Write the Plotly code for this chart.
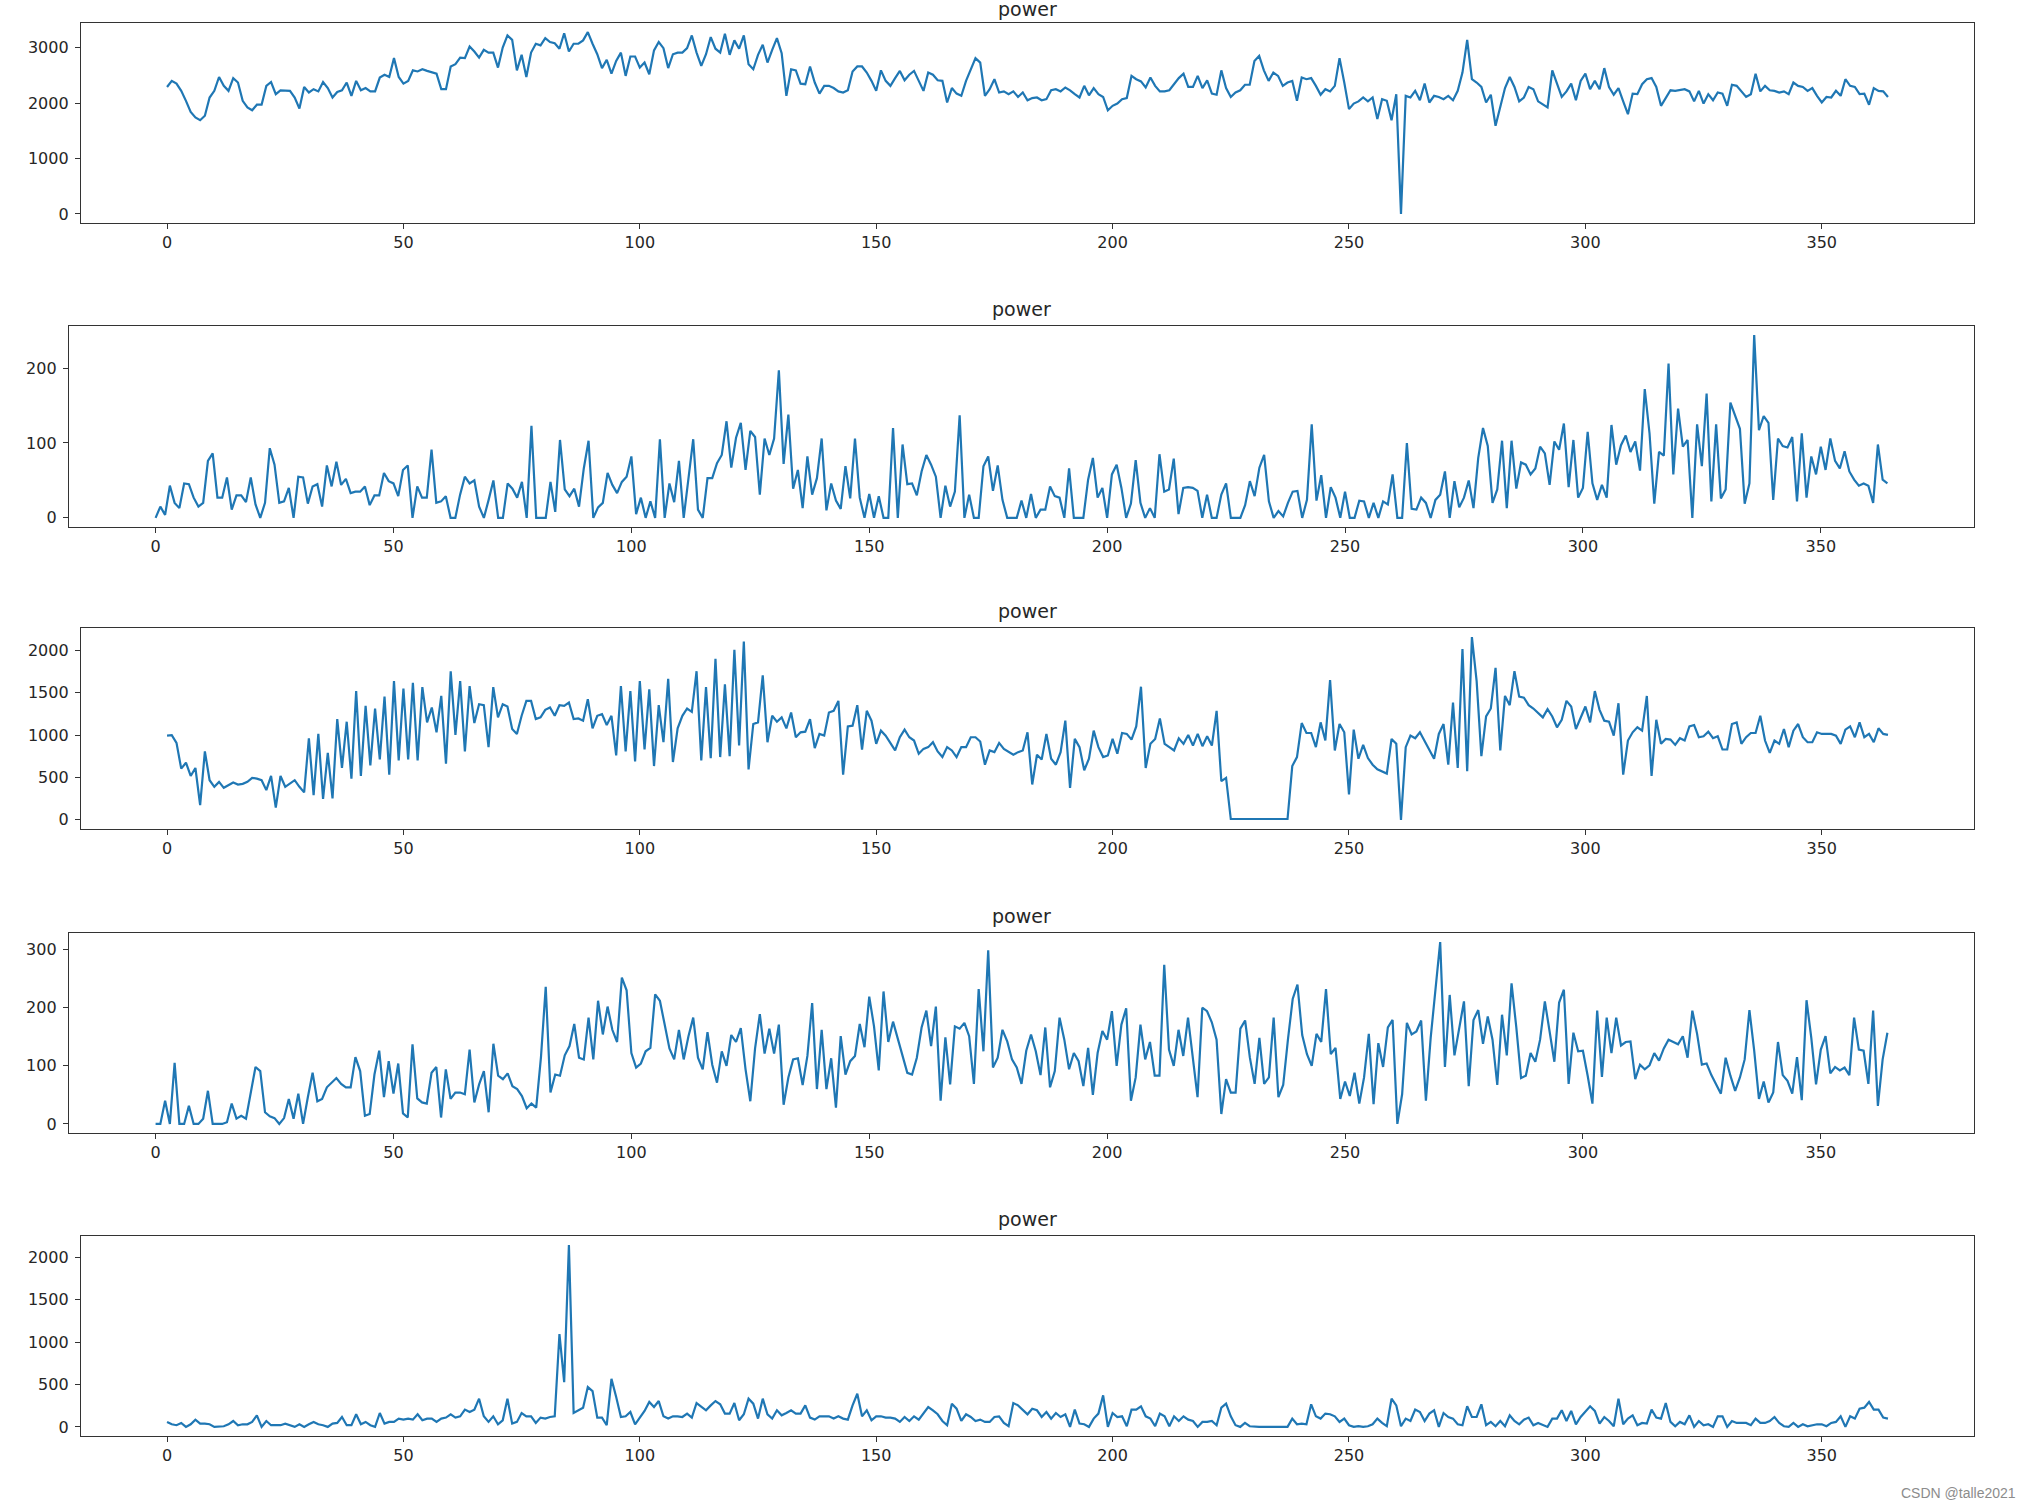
import plotly.graph_objects as go

days = list(range(365))

power_1 = [
    2290, 2400, 2350, 2220, 2040, 1840, 1740, 1690, 1770, 2100,
    2220, 2470, 2310, 2220, 2450, 2370, 2040, 1920, 1870, 1970,
    1970, 2310, 2380, 2160, 2230, 2230, 2220, 2100, 1900, 2290,
    2190, 2250, 2210, 2380, 2270, 2100, 2200, 2230, 2370, 2130,
    2400, 2230, 2270, 2210, 2210, 2460, 2510, 2470, 2810, 2470,
    2350, 2400, 2590, 2570, 2610, 2580, 2550, 2530, 2250, 2250,
    2660, 2700, 2820, 2810, 3020, 2930, 2820, 2960, 2910, 2910,
    2640, 3000, 3220, 3140, 2590, 2870, 2470, 2910, 3070, 3040,
    3170, 3100, 3080, 2980, 3260, 2930, 3070, 3070, 3130, 3280,
    3070, 2880, 2630, 2780, 2530, 2760, 2910, 2490, 2840, 2840,
    2640, 2730, 2520, 2950, 3100, 2990, 2630, 2880, 2910, 2910,
    2990, 3220, 2910, 2670, 2880, 3190, 2980, 2910, 3250, 2870,
    3130, 2980, 3220, 2700, 2610, 2870, 3050, 2730, 2960, 3170,
    2900, 2130, 2610, 2590, 2350, 2340, 2660, 2370, 2170, 2310,
    2310, 2270, 2210, 2190, 2230, 2570, 2660, 2660, 2550, 2400,
    2220, 2590, 2400, 2310, 2450, 2580, 2410, 2510, 2580, 2400,
    2220, 2550, 2510, 2410, 2400, 2010, 2270, 2170, 2130, 2400,
    2610, 2810, 2730, 2130, 2250, 2430, 2190, 2210, 2160, 2210,
    2110, 2190, 2050, 2090, 2100, 2050, 2070, 2230, 2250, 2210,
    2280, 2230, 2160, 2100, 2310, 2140, 2270, 2160, 2110, 1870,
    1950, 1990, 2070, 2090, 2490, 2430, 2390, 2280, 2460, 2310,
    2210, 2210, 2230, 2340, 2450, 2530, 2290, 2290, 2490, 2270,
    2410, 2170, 2150, 2590, 2270, 2110, 2190, 2230, 2330, 2330,
    2760, 2850, 2590, 2400, 2550, 2490, 2310, 2370, 2400, 2040,
    2460, 2430, 2450, 2310, 2150, 2250, 2210, 2310, 2810, 2370,
    1890, 1990, 2030, 2100, 2030, 2100, 1710, 2070, 2040, 1690,
    2160, 0, 2130, 2100, 2220, 2050, 2350, 2010, 2130, 2110,
    2070, 2130, 2050, 2220, 2550, 3140, 2430, 2370, 2290, 2010,
    2150, 1590, 1920, 2270, 2470, 2290, 2030, 2100, 2290, 2250,
    2030, 1980, 1920, 2590, 2350, 2110, 2210, 2350, 2050, 2400,
    2530, 2250, 2400, 2250, 2630, 2290, 2150, 2270, 2030, 1800,
    2170, 2160, 2340, 2430, 2450, 2290, 1950, 2100, 2230, 2220,
    2230, 2250, 2210, 2030, 2220, 1990, 2160, 2050, 2190, 2170,
    1950, 2330, 2310, 2210, 2110, 2160, 2530, 2210, 2310, 2230,
    2220, 2190, 2210, 2160, 2370, 2310, 2290, 2220, 2270, 2130,
    2010, 2110, 2100, 2220, 2130, 2430, 2310, 2290, 2160, 2170,
    1970, 2270, 2220, 2210, 2110,
]

power_2 = [
    0, 15, 4, 43, 20, 13, 46, 45, 27, 15,
    20, 76, 86, 27, 27, 54, 11, 30, 30, 21,
    54, 18, 0, 20, 93, 71, 20, 22, 40, 0,
    55, 54, 19, 42, 45, 15, 70, 42, 75, 44,
    52, 33, 35, 35, 42, 17, 30, 30, 60, 49,
    46, 29, 64, 70, 0, 42, 27, 27, 91, 20,
    22, 29, 0, 0, 31, 55, 46, 50, 15, 0,
    24, 50, 0, 0, 46, 39, 27, 48, 0, 123,
    0, 0, 0, 48, 8, 104, 38, 29, 39, 15,
    66, 103, 0, 14, 20, 60, 44, 33, 48, 55,
    82, 5, 27, 0, 22, 0, 105, 0, 46, 21,
    76, 0, 50, 105, 11, 0, 53, 53, 73, 84,
    129, 67, 107, 127, 64, 116, 108, 31, 106, 84,
    106, 197, 72, 138, 39, 64, 13, 82, 31, 53,
    106, 10, 46, 23, 12, 69, 26, 106, 27, 0,
    32, 0, 29, 0, 0, 120, 0, 98, 45, 46,
    30, 62, 84, 71, 55, 0, 43, 15, 35, 137,
    0, 31, 0, 0, 69, 82, 36, 70, 24, 0,
    0, 0, 23, 0, 32, 0, 11, 11, 42, 29,
    27, 0, 66, 0, 0, 0, 51, 80, 27, 40,
    0, 58, 71, 40, 0, 19, 77, 20, 0, 13,
    0, 85, 35, 38, 79, 5, 40, 41, 40, 36,
    0, 31, 0, 0, 31, 46, 0, 0, 0, 17,
    49, 29, 67, 84, 22, 0, 9, 2, 20, 35,
    36, 0, 24, 125, 23, 57, 0, 41, 27, 0,
    35, 0, 0, 23, 22, 0, 20, 0, 22, 18,
    58, 0, 0, 100, 12, 11, 27, 20, 0, 24,
    31, 62, 0, 49, 14, 27, 50, 13, 80, 120,
    96, 20, 38, 103, 13, 103, 39, 74, 71, 58,
    66, 95, 86, 44, 102, 91, 126, 41, 104, 27,
    40, 115, 46, 24, 44, 27, 124, 71, 97, 110,
    88, 102, 63, 172, 113, 19, 88, 83, 206, 58,
    146, 95, 104, 0, 125, 69, 166, 22, 125, 26,
    38, 154, 137, 119, 19, 46, 244, 117, 136, 127,
    24, 106, 96, 94, 108, 22, 113, 27, 82, 58,
    95, 64, 106, 76, 66, 89, 62, 51, 43, 46,
    43, 20, 98, 51, 46,
]

power_3 = [
    994, 1000, 908, 604, 674, 518, 612, 175, 807, 468,
    390, 448, 378, 409, 440, 417, 425, 448, 495, 487,
    468, 351, 518, 144, 518, 390, 429, 468, 390, 324,
    963, 292, 1014, 246, 791, 253, 1189, 612, 1158, 487,
    1520, 518, 1345, 643, 1314, 713, 1454, 534, 1637, 702,
    1548, 713, 1618, 702, 1567, 1150, 1326, 1033, 1462, 663,
    1754, 1002, 1637, 807, 1579, 1142, 1365, 1353, 858, 1567,
    1209, 1365, 1337, 1072, 1014, 1228, 1404, 1404, 1189, 1209,
    1298, 1326, 1228, 1353, 1345, 1384, 1189, 1197, 1170, 1423,
    1080, 1228, 1248, 1119, 1228, 760, 1579, 807, 1520, 690,
    1637, 830, 1540, 635, 1353, 916, 1665, 682, 1080, 1228,
    1314, 1275, 1754, 702, 1567, 729, 1899, 741, 1598, 752,
    2008, 877, 2105, 596, 1131, 1150, 1704, 916, 1228, 1158,
    1209, 1080, 1267, 975, 1033, 1041, 1189, 846, 1014, 994,
    1267, 1287, 1404, 534, 1103, 1111, 1353, 830, 1287, 1170,
    897, 1053, 994, 908, 819, 975, 1064, 975, 936, 780,
    838, 858, 916, 807, 741, 858, 819, 741, 858, 858,
    975, 975, 924, 651, 819, 799, 908, 838, 799, 768,
    799, 819, 1033, 417, 768, 713, 1014, 721, 651, 799,
    1170, 378, 955, 858, 585, 721, 1053, 858, 741, 760,
    955, 780, 1025, 1014, 947, 1103, 1571, 612, 897, 955,
    1197, 897, 858, 819, 963, 897, 1002, 877, 1014, 869,
    986, 877, 1287, 456, 495, 10, 10, 10, 10, 10,
    10, 10, 10, 10, 10, 10, 10, 10, 635, 741,
    1142, 1025, 1025, 858, 1150, 936, 1649, 819, 1131, 1033,
    300, 1064, 721, 885, 729, 651, 596, 573, 546, 955,
    897, 0, 858, 994, 963, 1033, 924, 830, 721, 1014,
    1131, 651, 1384, 612, 2016, 573, 2156, 1637, 752, 1220,
    1314, 1793, 819, 1462, 1353, 1754, 1454, 1442, 1353, 1314,
    1267, 1209, 1306, 1220, 1092, 1181, 1404, 1337, 1072, 1209,
    1337, 1150, 1520, 1298, 1170, 1158, 994, 1376, 534, 936,
    1033, 1092, 1053, 1462, 518, 1181, 897, 955, 947, 885,
    963, 936, 1103, 1119, 975, 986, 1041, 963, 986, 830,
    830, 1131, 1150, 897, 975, 1025, 1025, 1228, 936, 791,
    936, 897, 1072, 858, 1053, 1131, 975, 916, 916, 1033,
    1014, 1014, 1014, 994, 897, 1064, 1103, 975, 1150, 975,
    1014, 916, 1080, 1014, 1002,
]

power_4 = [
    0, 0, 40, 0, 105, 0, 0, 31, 0, 0,
    9, 57, 0, 0, 0, 3, 35, 9, 14, 9,
    51, 98, 91, 20, 13, 10, 0, 10, 43, 9,
    52, 0, 46, 88, 39, 43, 63, 71, 79, 69,
    63, 63, 115, 91, 14, 17, 85, 126, 46, 108,
    52, 104, 18, 11, 137, 44, 37, 35, 88, 98,
    11, 94, 43, 54, 54, 51, 128, 37, 68, 91,
    20, 138, 83, 77, 87, 65, 60, 48, 27, 35,
    28, 115, 236, 54, 85, 83, 118, 134, 172, 114,
    111, 183, 111, 212, 154, 202, 162, 141, 252, 230,
    122, 97, 104, 125, 131, 223, 212, 171, 130, 111,
    162, 111, 151, 183, 114, 94, 158, 102, 71, 125,
    100, 153, 141, 165, 94, 39, 130, 189, 121, 164,
    121, 171, 33, 80, 111, 113, 67, 117, 208, 60,
    162, 60, 113, 28, 151, 85, 108, 117, 172, 132,
    219, 168, 92, 228, 141, 176, 145, 114, 88, 85,
    114, 166, 195, 134, 202, 40, 149, 68, 168, 164,
    174, 151, 69, 232, 125, 299, 97, 114, 162, 142,
    111, 97, 69, 126, 154, 125, 84, 166, 63, 91,
    183, 145, 94, 122, 108, 65, 131, 50, 122, 160,
    145, 194, 100, 171, 199, 40, 80, 171, 111, 141,
    83, 83, 274, 128, 100, 162, 117, 183, 114, 46,
    200, 194, 175, 145, 17, 77, 54, 54, 164, 178,
    114, 69, 148, 69, 80, 183, 46, 67, 145, 215,
    240, 153, 120, 100, 155, 141, 232, 120, 131, 43,
    73, 48, 88, 35, 80, 155, 34, 139, 98, 166,
    179, 0, 51, 174, 154, 159, 178, 40, 148, 234,
    313, 98, 222, 118, 168, 211, 65, 179, 196, 138,
    185, 145, 67, 188, 118, 242, 166, 79, 83, 122,
    107, 145, 211, 158, 107, 209, 231, 69, 157, 125,
    126, 83, 35, 195, 81, 183, 122, 183, 135, 141,
    142, 77, 102, 94, 101, 122, 109, 130, 145, 141,
    137, 151, 114, 195, 155, 102, 104, 84, 68, 52,
    114, 83, 57, 80, 111, 196, 126, 43, 73, 37,
    54, 141, 84, 74, 52, 115, 41, 213, 148, 68,
    128, 151, 87, 98, 92, 97, 84, 183, 128, 126,
    69, 195, 31, 111, 157,
]

power_5 = [
    59, 31, 20, 47, 0, 31, 86, 39, 39, 31,
    0, 8, 8, 31, 70, 20, 31, 31, 59, 137,
    0, 70, 20, 20, 20, 39, 20, 0, 31, 0,
    31, 59, 31, 20, 0, 39, 47, 117, 20, 20,
    149, 31, 59, 20, 0, 164, 39, 59, 59, 98,
    86, 98, 86, 149, 78, 98, 98, 59, 98, 110,
    149, 110, 125, 204, 176, 204, 333, 125, 59, 125,
    31, 78, 333, 39, 59, 164, 125, 125, 47, 110,
    98, 117, 125, 1096, 528, 2145, 164, 196, 227, 470,
    423, 110, 110, 20, 567, 352, 117, 125, 176, 31,
    110, 188, 294, 235, 305, 125, 98, 125, 125, 117,
    157, 110, 282, 235, 196, 254, 305, 266, 157, 157,
    282, 78, 149, 333, 274, 98, 333, 149, 98, 196,
    137, 164, 196, 157, 157, 254, 110, 86, 125, 125,
    125, 98, 125, 98, 86, 254, 391, 125, 196, 78,
    125, 125, 110, 110, 98, 59, 117, 70, 125, 86,
    164, 235, 196, 149, 70, 20, 274, 215, 70, 149,
    117, 70, 86, 59, 59, 117, 125, 47, 8, 282,
    254, 204, 149, 215, 196, 117, 176, 98, 164, 117,
    149, 0, 204, 39, 31, 0, 98, 157, 372, 0,
    164, 117, 125, 8, 204, 204, 243, 125, 98, 8,
    157, 125, 8, 125, 70, 125, 86, 70, 0, 59,
    59, 70, 20, 227, 274, 125, 20, 0, 47, 8,
    0, 0, 0, 0, 0, 0, 0, 0, 98, 31,
    39, 31, 266, 125, 98, 157, 149, 125, 59, 98,
    20, 0, 8, 0, 8, 31, 98, 47, 8, 333,
    254, 8, 98, 70, 204, 176, 70, 157, 196, 0,
    164, 117, 98, 31, 20, 243, 117, 117, 266, 20,
    59, 8, 70, 8, 137, 70, 31, 86, 110, 20,
    47, 20, 0, 98, 98, 196, 70, 188, 31, 117,
    176, 243, 188, 39, 117, 70, 8, 333, 31, 98,
    137, 20, 47, 39, 204, 110, 98, 282, 59, 8,
    59, 31, 137, 0, 70, 20, 31, 0, 125, 125,
    0, 70, 47, 47, 47, 20, 98, 47, 47, 70,
    117, 47, 8, 0, 47, 0, 31, 8, 20, 31,
    31, 8, 47, 59, 125, 0, 125, 98, 215, 227,
    294, 204, 204, 110, 98,
]

series = [power_1, power_2, power_3, power_4, power_5]
titles = ["power", "power", "power", "power", "power"]
x_ticks = [0, 50, 100, 150, 200, 250, 300, 350]
y_ticks = [
    [0, 1000, 2000, 3000],
    [0, 100, 200],
    [0, 500, 1000, 1500, 2000],
    [0, 100, 200, 300],
    [0, 500, 1000, 1500, 2000],
]

W, H = 2034, 1502
# plot boxes in pixels: (left, top, right, bottom)
boxes = [
    (81, 23, 1974, 223),
    (69, 326, 1974, 527),
    (81, 628, 1974, 829),
    (69, 933, 1974, 1133),
    (81, 1236, 1974, 1436),
]

FONT = "DejaVu Sans"
TXT = "#262626"
fig = go.Figure()
layout = dict(
    width=W, height=H,
    margin=dict(l=0, r=0, t=0, b=0),
    paper_bgcolor="white", plot_bgcolor="white",
    showlegend=False,
    font=dict(family=FONT, size=16, color=TXT),
)
annotations = []
n_days = len(days)
x_lo = -0.05 * (n_days - 1)
x_hi = (n_days - 1) * 1.05

for k, (vals, box) in enumerate(zip(series, boxes)):
    n = k + 1
    xs = "x" if n == 1 else f"x{n}"
    ys = "y" if n == 1 else f"y{n}"
    fig.add_trace(go.Scatter(
        x=days[:len(vals)], y=vals, mode="lines",
        line=dict(color="#1f77b4", width=2.2),
        xaxis=xs, yaxis=ys, hoverinfo="skip",
    ))
    l, t, r, b = box
    lo, hi = min(vals), max(vals)
    pad = 0.05 * (hi - lo)
    axis_common = dict(
        showline=True, linecolor="#333333", linewidth=1.3, mirror=True,
        ticks="outside", ticklen=5, tickwidth=1.3, tickcolor="#333333",
        showgrid=False, zeroline=False,
        tickfont=dict(family=FONT, size=16, color=TXT),
    )
    layout["xaxis" if n == 1 else f"xaxis{n}"] = dict(
        domain=[l / W, r / W], anchor=ys,
        range=[x_lo, x_hi], tickvals=x_ticks,
        **axis_common,
    )
    layout["yaxis" if n == 1 else f"yaxis{n}"] = dict(
        domain=[1 - b / H, 1 - t / H], anchor=xs,
        range=[lo - pad, hi + pad], tickvals=y_ticks[k],
        ticklabelstandoff=3,
        **axis_common,
    )
    annotations.append(dict(
        text=titles[k], xref="paper", yref="paper",
        x=(l + r) / 2 / W, y=1 - t / H,
        xanchor="center", yanchor="bottom", yshift=1 if n == 1 else 4,
        showarrow=False, font=dict(family=FONT, size=19, color=TXT),
    ))

annotations.append(dict(
    text="CSDN @talle2021", xref="paper", yref="paper",
    x=2018 / W, y=1 - 1493 / H, xanchor="right", yanchor="middle",
    showarrow=False, font=dict(family="Liberation Sans", size=14, color="#8c8c8c"),
))
layout["annotations"] = annotations
fig.update_layout(**layout)
fig.write_html(
    "out.html",
    config={"displayModeBar": False},
    post_script="document.body.style.margin='0px';document.body.style.overflow='hidden';",
)
